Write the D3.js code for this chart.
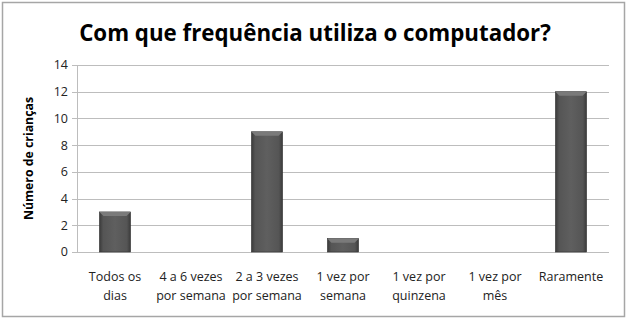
<!DOCTYPE html>
<html>
<head>
<meta charset="utf-8">
<script src="https://cdn.jsdelivr.net/npm/d3@7"></script>
<style>
body { margin: 0; background: #fff; }
text { font-family: "Open Sans", "Liberation Sans", sans-serif; }
</style>
</head>
<body>
<svg id="chart" width="630" height="326"></svg>
<script>
const categories = [
  ["Todos os", "dias"],
  ["4 a 6 vezes", "por semana"],
  ["2 a 3 vezes", "por semana"],
  ["1 vez por", "semana"],
  ["1 vez por", "quinzena"],
  ["1 vez por", "mês"],
  ["Raramente"]
]
const values = [3, 0, 9, 1, 0, 0, 12]
const yTicks = [0, 2, 4, 6, 8, 10, 12, 14]
const title = "Com que frequência utiliza o computador?"
const yTitle = "Número de crianças"

const svg = d3.select("#chart")
const margin = {top: 65, right: 21, bottom: 74, left: 77}

// outer frame
svg.append("rect")
  .attr("x", 2.5).attr("y", 2.5)
  .attr("width", 622).attr("height", 314)
  .attr("fill", "#fff")
  .attr("stroke", "#a6a6a6")
  .attr("stroke-width", 1.5)

const defs = svg.append("defs")
const grad = defs.append("linearGradient").attr("id", "barGrad")
  .attr("x1", "0%").attr("x2", "100%").attr("y1", "0%").attr("y2", "0%")
grad.append("stop").attr("offset", "0%").attr("stop-color", "#3a3a3a")
grad.append("stop").attr("offset", "12%").attr("stop-color", "#555")
grad.append("stop").attr("offset", "50%").attr("stop-color", "#5f5f5f")
grad.append("stop").attr("offset", "88%").attr("stop-color", "#555")
grad.append("stop").attr("offset", "100%").attr("stop-color", "#3a3a3a")

const x = d3.scaleBand()
  .domain(d3.range(categories.length))
  .range([margin.left, 609])
  .paddingInner(0.59).paddingOuter(0.295)

const y = d3.scaleLinear()
  .domain([0, 14])
  .range([252, 65])

// gridlines
svg.append("g")
  .selectAll("line")
  .data(yTicks)
  .enter()
  .append("line")
  .attr("x1", margin.left - 5).attr("x2", 609)
  .attr("y1", d => Math.round(y(d)) + 0.5)
  .attr("y2", d => Math.round(y(d)) + 0.5)
  .attr("stroke", "#bdbdbd")

// y axis line
svg.append("line")
  .attr("x1", margin.left + 0.5).attr("x2", margin.left + 0.5)
  .attr("y1", y(14)).attr("y2", y(0))
  .attr("stroke", "#bdbdbd")

// y tick labels
svg.append("g")
  .selectAll("text")
  .data(yTicks)
  .enter()
  .append("text")
  .attr("x", margin.left - 9)
  .attr("y", d => y(d))
  .attr("dy", "0.35em")
  .attr("text-anchor", "end")
  .attr("font-size", 12.5)
  .attr("fill", "#222")
  .text(d => d)

// bars
const bars = svg.append("g")
bars.selectAll("rect.bar")
  .data(values)
  .enter()
  .append("rect")
  .attr("class", "bar")
  .attr("x", (d, i) => x(i))
  .attr("y", d => y(d))
  .attr("width", x.bandwidth())
  .attr("height", d => y(0) - y(d))
  .attr("fill", "url(#barGrad)")
  .attr("stroke", "#333")
  .attr("stroke-width", 0.6)
  .style("display", d => d > 0 ? null : "none")

// top bevel
values.forEach((v, i) => {
  if (v <= 0) return
  const x0 = x(i), x1 = x(i) + x.bandwidth(), t = y(v)
  bars.append("path")
    .attr("d", `M${x0},${t} L${x1},${t} L${x1 - 4},${t + 4} L${x0 + 4},${t + 4} Z`)
    .attr("fill", "#7a7a7a")
})

// category labels
const lab = svg.append("g")
categories.forEach((lines, i) => {
  const t = lab.append("text")
    .attr("x", x(i) + x.bandwidth() / 2)
    .attr("y", 281)
    .attr("text-anchor", "middle")
    .attr("font-size", 12.5)
    .attr("fill", "#222")
  lines.forEach((l, j) => {
    t.append("tspan")
      .attr("x", x(i) + x.bandwidth() / 2)
      .attr("dy", j === 0 ? 0 : 19)
      .text(l)
  })
})

// title
svg.append("text")
  .attr("x", 315).attr("y", 41)
  .attr("text-anchor", "middle")
  .attr("font-size", 22.3)
  .attr("font-weight", "bold")
  .attr("fill", "#000")
  .text(title)

// y title
svg.append("text")
  .attr("transform", "translate(33," + (y(7)) + ") rotate(-90)")
  .attr("text-anchor", "middle")
  .attr("font-size", 12.3)
  .attr("font-weight", "bold")
  .attr("fill", "#000")
  .text(yTitle)
</script>
</body>
</html>
